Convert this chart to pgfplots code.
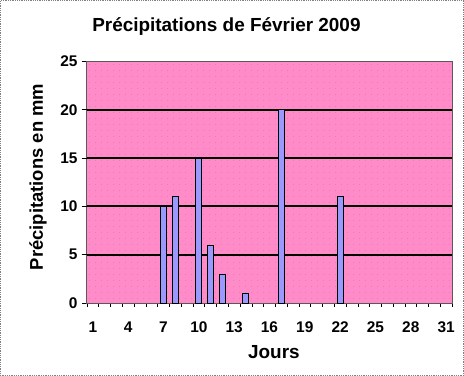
\documentclass[border=0pt]{standalone}
\usepackage{pgfplots}
\pgfplotsset{compat=1.18}
\usetikzlibrary{patterns.meta}
\usepackage{fontspec}
\setmainfont{Liberation Sans}
\definecolor{plotpink}{RGB}{255,140,200}
\definecolor{dotpink}{RGB}{205,120,170}
\definecolor{barblue}{RGB}{153,153,255}
\begin{document}
\begin{tikzpicture}
\path[use as bounding box] (-87bp,-73bp) rectangle (377bp,303bp);
\draw[gray, densely dotted, line width=0.8bp] (-86.5bp,-72.5bp) rectangle (376.5bp,302.5bp);
\begin{axis}[
 at={(0bp,0bp)}, anchor=south west, scale only axis,
 width=365bp, height=241.5bp,
 xmin=0.5, xmax=31.5, ymin=0, ymax=25,
 axis background/.style={fill=plotpink, postaction={pattern={Dots[distance=6bp, radius=0.45bp]}, pattern color=dotpink}},
 axis line style={draw=gray!70!black, line width=1bp},
 tick align=outside,
 xtick={1,4,...,31},
 major x tick style={draw=none},
 minor xtick={0.5,1.5,...,31.5},
 minor x tick style={black, line width=0.6bp},
 minor tick length=4bp,
 xtick pos=bottom, ytick pos=left,
 ytick={0,5,...,25},
 major y tick style={black, line width=0.8bp},
 major tick length=5bp,
 extra y ticks={5,10,15,20},
 extra y tick labels={},
 extra y tick style={grid=major, major grid style={black, line width=2bp}},
 /pgf/number format/assume math mode=true,
 ticklabel style={font=\bfseries\fontsize{15.5}{15.5}\selectfont},
 yticklabel style={xshift=-1bp},
 xticklabel style={yshift=-10bp},
 title={Précipitations de Février 2009},
 title style={font=\bfseries\fontsize{19}{19}\selectfont, at={(axis description cs:0.382,1.122)}, anchor=center},
 xlabel={Jours},
 xlabel style={font=\bfseries\fontsize{19}{19}\selectfont, at={(axis description cs:0.512,-0.203)}, anchor=center},
 ylabel={Précipitations en mm},
 ylabel style={font=\bfseries\fontsize{18.5}{18.5}\selectfont, at={(axis description cs:-0.134,0.522)}, anchor=center},
 ybar, bar width=6bp,
]
\addplot[fill=barblue, draw=black, line width=1bp] coordinates {
 (7,10) (8,11) (10,15) (11,6) (12,3) (14,1) (17,20) (22,11)
};
\end{axis}
\end{tikzpicture}
\end{document}
